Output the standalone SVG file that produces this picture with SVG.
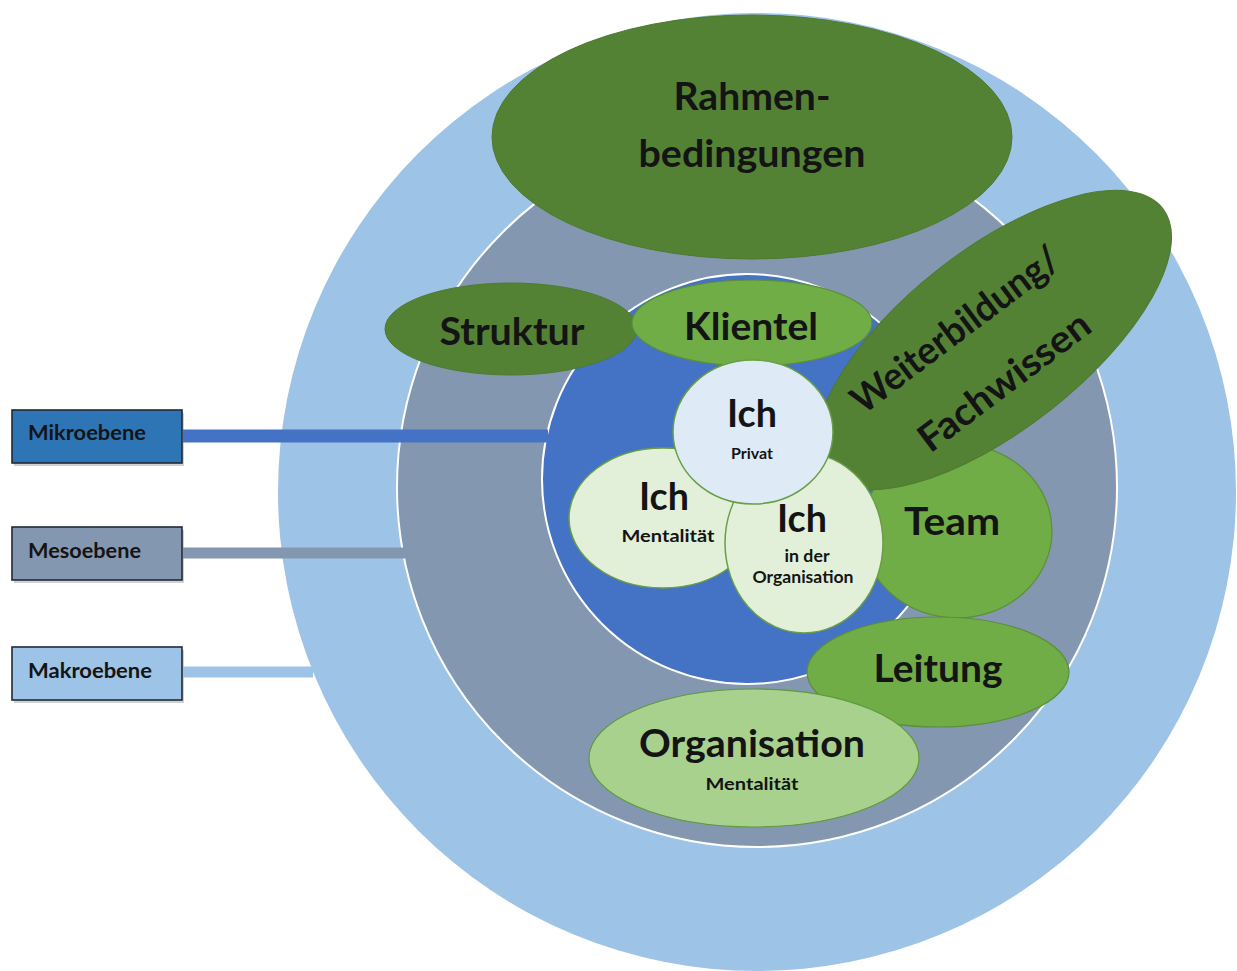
<svg xmlns="http://www.w3.org/2000/svg" width="1237" height="971" viewBox="0 0 1237 971">
  <style>
    text { font-family: Lato, "Open Sans", "Liberation Sans", sans-serif; font-weight: bold; fill: #141414; text-anchor: middle; }
    .big { font-size: 38px; }
    .sub { font-size: 17px; }
    .tiny { font-size: 15px; }
    .lvl { font-size: 20px; text-anchor: start; }
    .ring { stroke: #ffffff; stroke-width: 2; }
    .dark { fill: #548235; stroke: #4e7a31; stroke-width: 1; }
    .mid { fill: #70ad47; stroke: #5b8f3a; stroke-width: 1.2; }
    .light { fill: #a9d18e; stroke: #5f9a3c; stroke-width: 1.2; }
    .ich { fill: #e2f0d9; stroke: #6a9e47; stroke-width: 1.5; }
    .ichp { fill: #deebf7; stroke: #6a9e47; stroke-width: 1.5; }
    .box { stroke: #1e2a38; stroke-width: 1.6; }
    .shadow { fill: #000000; opacity: 0.18; }
  </style>

  <!-- level rings -->
  <g id="ring-makro">
    <circle cx="757" cy="492" r="479" fill="#9dc3e6"/>
  </g>
  <g id="ring-meso">
    <circle class="ring" cx="757" cy="487" r="360" fill="#8497b0"/>
  </g>
  <g id="ring-mikro">
    <circle class="ring" cx="747" cy="479" r="205" fill="#4472c4"/>
  </g>

  <!-- level labels -->
  <g id="label-mikro">
    <rect class="shadow" x="14" y="413" width="170" height="53"/>
    <rect class="box" x="12" y="410" width="170" height="53" fill="#2e75b6"/>
    <text class="lvl" x="28" y="440" textLength="118" lengthAdjust="spacingAndGlyphs">Mikroebene</text>
  </g>
  <g id="label-meso">
    <rect class="shadow" x="14" y="530" width="170" height="53"/>
    <rect class="box" x="12" y="527" width="170" height="53" fill="#8497b0"/>
    <text class="lvl" x="28" y="558" textLength="113" lengthAdjust="spacingAndGlyphs">Mesoebene</text>
  </g>
  <g id="label-makro">
    <rect class="shadow" x="14" y="650" width="170" height="53"/>
    <rect class="box" x="12" y="647" width="170" height="53" fill="#9dc3e6"/>
    <text class="lvl" x="28" y="678" textLength="124" lengthAdjust="spacingAndGlyphs">Makroebene</text>
  </g>

  <!-- connectors from labels to rings -->
  <g id="connectors">
    <line x1="183" y1="436" x2="548" y2="436" stroke="#4472c4" stroke-width="13"/>
    <line x1="183" y1="553" x2="405" y2="553" stroke="#8497b0" stroke-width="11"/>
    <line x1="183" y1="672" x2="313" y2="672" stroke="#9dc3e6" stroke-width="11"/>
  </g>

  <!-- outer factors -->
  <g id="rahmenbedingungen">
    <ellipse class="dark" cx="752" cy="137" rx="260" ry="122"/>
    <text class="big" x="752" y="110" textLength="157" lengthAdjust="spacingAndGlyphs">Rahmen-</text>
    <text class="big" x="752" y="167" textLength="227" lengthAdjust="spacingAndGlyphs">bedingungen</text>
  </g>
  <g id="struktur">
    <ellipse class="dark" cx="511" cy="329" rx="126" ry="46"/>
    <text class="big" x="512" y="345" textLength="145" lengthAdjust="spacingAndGlyphs">Struktur</text>
  </g>
  <g id="klientel">
    <ellipse class="mid" cx="752" cy="323" rx="120" ry="43"/>
    <text class="big" x="751" y="340" textLength="134" lengthAdjust="spacingAndGlyphs">Klientel</text>
  </g>
  <g id="team">
    <ellipse class="mid" cx="957" cy="531" rx="95" ry="87"/>
    <text class="big" x="952" y="535" textLength="96" lengthAdjust="spacingAndGlyphs">Team</text>
  </g>
  <g id="weiterbildung">
    <ellipse class="dark" cx="0" cy="0" rx="214" ry="90" transform="translate(994 340) rotate(-38)"/>
    <text class="big" transform="translate(963 340) rotate(-37)" x="0" y="0" textLength="250" lengthAdjust="spacingAndGlyphs">Weiterbildung/</text>
    <text class="big" transform="translate(1012 392) rotate(-37)" x="0" y="0" textLength="205" lengthAdjust="spacingAndGlyphs">Fachwissen</text>
  </g>
  <g id="leitung">
    <ellipse class="mid" cx="938" cy="672" rx="131" ry="55"/>
    <text class="big" x="938" y="682" textLength="129" lengthAdjust="spacingAndGlyphs">Leitung</text>
  </g>
  <g id="organisation">
    <ellipse class="light" cx="754" cy="758" rx="165" ry="69"/>
    <text class="big" x="752" y="757" textLength="226" lengthAdjust="spacingAndGlyphs">Organisation</text>
    <text class="sub" x="752" y="790" textLength="93" lengthAdjust="spacingAndGlyphs">Mentalität</text>
  </g>

  <!-- the three facets of the self -->
  <g id="ich-mentalitaet">
    <ellipse class="ich" cx="663" cy="518" rx="94" ry="70"/>
    <text class="big" x="664" y="510" textLength="50" lengthAdjust="spacingAndGlyphs">Ich</text>
    <text class="sub" x="668" y="542" textLength="93" lengthAdjust="spacingAndGlyphs">Mentalität</text>
  </g>
  <g id="ich-organisation">
    <ellipse class="ich" cx="804" cy="543" rx="79" ry="90"/>
    <text class="big" x="802" y="532" textLength="50" lengthAdjust="spacingAndGlyphs">Ich</text>
    <text class="sub" x="807" y="562" textLength="45" lengthAdjust="spacingAndGlyphs">in der</text>
    <text class="sub" x="803" y="583" textLength="101" lengthAdjust="spacingAndGlyphs">Organisation</text>
  </g>
  <g id="ich-privat">
    <ellipse class="ichp" cx="753" cy="432" rx="80" ry="72"/>
    <text class="big" x="752" y="427" textLength="50" lengthAdjust="spacingAndGlyphs">Ich</text>
    <text class="tiny" x="752" y="459" textLength="42" lengthAdjust="spacingAndGlyphs">Privat</text>
  </g>
</svg>
